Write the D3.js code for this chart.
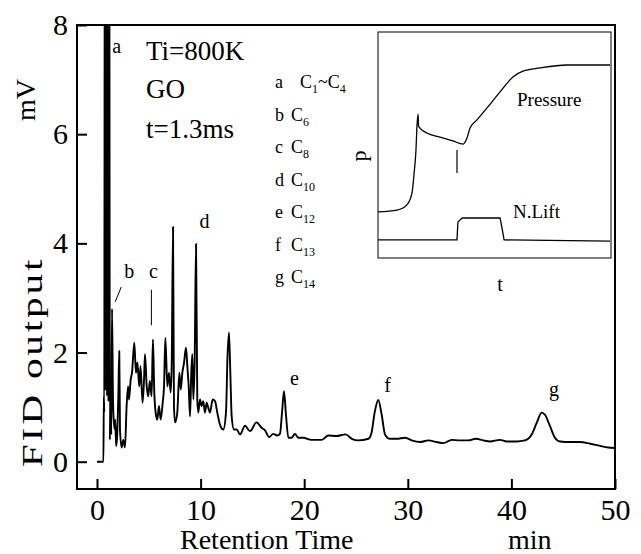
<!DOCTYPE html>
<html>
<head>
<meta charset="utf-8">
<script src="https://cdn.jsdelivr.net/npm/d3@7"></script>
<style>
  body { margin: 0; background: #fff; }
  svg { display: block; }
  text { font-family: "Liberation Serif", "Times New Roman", serif; fill: #000; }
</style>
</head>
<body>
<svg id="chart" width="641" height="554"></svg>
<script>
// Chromatogram: retention time (min) and FID output (mV)
const retentionTime = [0,0.62,0.66,0.7,0.76,0.83,0.9,0.97,1.04,1.11,1.18,1.24,1.3,1.38,1.45,1.55,1.68,1.76,1.85,1.96,2.06,2.15,2.22,2.38,2.54,2.7,2.86,3.0,3.09,3.25,3.38,3.6,3.76,3.9,4.08,4.2,4.4,4.54,4.63,4.8,4.95,5.1,5.27,5.4,5.53,5.66,5.82,5.98,6.15,6.34,6.47,6.6,6.79,6.95,7.11,7.21,7.34,7.43,7.53,7.75,7.95,8.08,8.24,8.4,8.59,8.72,8.85,8.98,9.1,9.2,9.3,9.43,9.56,9.68,9.78,9.94,10.1,10.26,10.42,10.59,10.74,10.9,11.17,11.39,11.61,11.87,12.19,12.45,12.6,12.74,12.87,13.0,13.22,13.48,13.8,14.29,14.77,15.4,15.9,16.2,16.63,17.0,17.4,17.66,17.86,18.05,18.24,18.47,18.79,19.1,19.43,19.9,20.7,21.7,22.33,23.1,24.0,24.6,25.2,26.2,26.5,26.8,27.15,27.48,27.8,28.28,28.93,29.73,30.38,31.18,31.98,32.79,33.43,34.24,35.04,35.84,36.58,37.29,37.93,38.9,39.55,40.5,41.3,41.96,42.44,42.92,43.24,43.73,44.2,44.7,45.66,46.6,47.6,48.55,49.35,50];
const fidOutput = [0,0,1.2,0.9,12,1.3,12,1.2,12,1.1,12,0.4,1.4,0.5,2.8,1.08,0.6,0.77,0.28,0.53,1.2,2.03,0.59,0.26,0.4,0.26,1.02,1.38,1.14,1.5,1.63,2.18,1.63,1.82,1.38,1.75,1.08,1.5,1.97,1.38,1.2,1.48,1.2,2.24,1.27,0.9,0.77,1.02,0.77,1.08,1.38,2.27,1.38,1.63,1.27,1.75,4.3,1.02,0.72,0.9,1.63,1.32,1.63,1.81,2.09,1.75,1.38,0.83,1.63,1.97,1.14,1.88,3.99,1.14,0.9,1.14,1.02,1.11,0.9,1.08,0.99,0.9,1.14,1.11,0.9,0.68,0.59,0.9,1.94,2.37,1.63,0.83,0.59,0.59,0.5,0.66,0.56,0.72,0.62,0.58,0.45,0.51,0.48,0.51,0.9,1.29,0.86,0.44,0.44,0.51,0.44,0.44,0.4,0.4,0.48,0.47,0.5,0.42,0.39,0.42,0.53,0.9,1.13,0.86,0.5,0.42,0.42,0.44,0.39,0.36,0.39,0.36,0.34,0.4,0.39,0.39,0.42,0.39,0.37,0.4,0.37,0.37,0.39,0.5,0.71,0.9,0.86,0.65,0.44,0.37,0.36,0.36,0.33,0.29,0.26,0.25];

const xTickValues = [0, 10, 20, 30, 40, 50];
const yTickValues = [0, 2, 4, 6, 8];

// Peak letters and their identities
const peakKeys = ["a", "b", "c", "d", "e", "f", "g"];
const peakCarbons = [["1", "4"], ["6"], ["8"], ["10"], ["12"], ["13"], ["14"]];

// Run conditions
const conditionLines = ["Ti=800K", "GO", "t=1.3ms"];

// Inset: cylinder pressure and needle lift against time (arbitrary units)
const insetTime = [0,8.2,12.4,14.6,15.5,16.3,16.7,17.2,17.4,18.0,21.0,26.6,32.2,36.5,38.2,39.5,42.5,46.8,52.4,57.9,62.2,69.5,81.1,99.6];
const insetPressure = [20.4,21.2,23.5,28.8,37.6,47.8,58,63.7,58.4,57.5,55.3,53.5,51.8,50.4,53.1,57.5,61.1,66.4,73.5,80.1,82.7,84.1,85.4,85.4];
const liftTime = [0,33.9,34.3,36.1,52.4,53.6,54.1,99.6];
const liftValue = [8.0,8.0,15.9,17.7,17.7,11.1,8.0,7.5];
const ignitionMarkTime = [33.9, 33.9];
const ignitionMarkValue = [47.8, 37.6];

const svg = d3.select("#chart");
const plot = { left: 77, top: 25, right: 615, bottom: 489 };

const x = d3.scaleLinear().domain([-1.93, 50]).range([plot.left, plot.right]);
const y = d3.scaleLinear().domain([-0.5, 8]).range([plot.bottom, plot.top]);

svg.append("defs").append("clipPath").attr("id", "plotClip")
  .append("rect")
  .attr("x", plot.left).attr("y", plot.top)
  .attr("width", plot.right - plot.left).attr("height", plot.bottom - plot.top);

// Trace
const trace = retentionTime.map((t, i) => [t, fidOutput[i]]);
svg.append("path")
  .datum(trace)
  .attr("clip-path", "url(#plotClip)")
  .attr("fill", "none")
  .attr("stroke", "#000")
  .attr("stroke-width", 1.9)
  .attr("stroke-linejoin", "round")
  .attr("d", d3.line().x(d => x(d[0])).y(d => y(d[1])).curve(d3.curveMonotoneX));

// Axes with inward ticks
const xAxis = svg.append("g")
  .attr("transform", `translate(0,${plot.bottom})`)
  .call(d3.axisBottom(x).tickValues(xTickValues).tickSize(-10).tickPadding(10));
const yAxis = svg.append("g")
  .attr("transform", `translate(${plot.left},0)`)
  .call(d3.axisLeft(y).tickValues(yTickValues).tickSize(-10).tickPadding(9));
[xAxis, yAxis].forEach(g => {
  g.select(".domain").remove();
  g.selectAll(".tick line").attr("stroke", "#000").attr("stroke-width", 2);
  g.selectAll(".tick text")
    .style("font-family", '"Liberation Serif", "Times New Roman", serif')
    .style("font-size", "30px").attr("fill", "#000");
});

// Frame
svg.append("rect")
  .attr("x", plot.left).attr("y", plot.top)
  .attr("width", plot.right - plot.left).attr("height", plot.bottom - plot.top)
  .attr("fill", "none").attr("stroke", "#000").attr("stroke-width", 2);

// Axis titles
svg.append("text").attr("x", 180).attr("y", 549)
  .style("font-size", "28px").text("Retention Time");
svg.append("text").attr("x", 508).attr("y", 549)
  .style("font-size", "28px").text("min");
svg.append("text")
  .attr("transform", "translate(42,362) rotate(-90) scale(1.38,1)")
  .attr("text-anchor", "middle")
  .style("font-size", "30px").style("letter-spacing", "2px")
  .text("FID  output");
svg.append("text")
  .attr("transform", "translate(35,100) rotate(-90)")
  .attr("text-anchor", "middle")
  .style("font-size", "28px").text("mV");

// Run conditions
conditionLines.forEach((s, i) => {
  svg.append("text").attr("x", 146).attr("y", [60, 98, 138][i])
    .style("font-size", "27px").text(s);
});

// Peak letters beside the peaks
const peakLabelAt = [[1.48, 7.49, "start"], [3.12, 3.37, "middle"], [5.44, 3.37, "middle"],
                     [10.37, 4.28, "middle"], [19.07, 1.41, "middle"], [28.04, 1.28, "middle"],
                     [44.1, 1.2, "middle"]];
peakKeys.forEach((k, i) => {
  const [t, v, anchor] = peakLabelAt[i];
  svg.append("text").attr("x", x(t)).attr("y", y(v))
    .attr("text-anchor", anchor).style("font-size", "20px").text(k);
});
// leader strokes for b and c
[[[2.34, 3.2], [1.76, 2.93]], [[5.25, 3.15], [5.25, 2.5]]].forEach(seg => {
  svg.append("line")
    .attr("x1", x(seg[0][0])).attr("y1", y(seg[0][1]))
    .attr("x2", x(seg[1][0])).attr("y2", y(seg[1][1]))
    .attr("stroke", "#000").attr("stroke-width", 1);
});

// Key of peak identities
const keyBaselines = [88, 120.5, 153, 185.5, 218, 250.5, 283];
peakKeys.forEach((k, i) => {
  const g = svg.append("text").attr("y", keyBaselines[i]).style("font-size", "18px");
  g.append("tspan").attr("x", 275).text(k);
  const c = peakCarbons[i];
  g.append("tspan").attr("x", i === 0 ? 300 : 291).text("C");
  g.append("tspan").attr("dy", 5).style("font-size", "12px").text(c[0]);
  if (c.length > 1) {
    g.append("tspan").attr("dy", -5).text("~C");
    g.append("tspan").attr("dy", 5).style("font-size", "12px").text(c[1]);
  }
});

// Inset
const inset = { left: 378, top: 32, right: 611, bottom: 258 };
const ix = d3.scaleLinear().domain([0, 100]).range([inset.left, inset.right]);
const iy = d3.scaleLinear().domain([0, 100]).range([inset.bottom, inset.top]);
svg.append("rect")
  .attr("x", inset.left).attr("y", inset.top)
  .attr("width", inset.right - inset.left).attr("height", inset.bottom - inset.top)
  .attr("fill", "#fff").attr("stroke", "#000").attr("stroke-width", 1);
svg.append("path")
  .datum(insetTime.map((t, i) => [t, insetPressure[i]]))
  .attr("fill", "none").attr("stroke", "#000").attr("stroke-width", 1.3)
  .attr("d", d3.line().x(d => ix(d[0])).y(d => iy(d[1])).curve(d3.curveMonotoneX));
svg.append("path")
  .datum(liftTime.map((t, i) => [t, liftValue[i]]))
  .attr("fill", "none").attr("stroke", "#000").attr("stroke-width", 1.3)
  .attr("d", d3.line().x(d => ix(d[0])).y(d => iy(d[1])));
svg.append("path")
  .datum(ignitionMarkTime.map((t, i) => [t, ignitionMarkValue[i]]))
  .attr("fill", "none").attr("stroke", "#000").attr("stroke-width", 1.2)
  .attr("d", d3.line().x(d => ix(d[0])).y(d => iy(d[1])));
svg.append("text").attr("x", 517).attr("y", 106).style("font-size", "19px").text("Pressure");
svg.append("text").attr("x", 513).attr("y", 218).style("font-size", "19px").text("N.Lift");
svg.append("text").attr("x", 500).attr("y", 291).attr("text-anchor", "middle")
  .style("font-size", "20px").text("t");
svg.append("text").attr("transform", "translate(366,156) rotate(-90)")
  .attr("text-anchor", "middle").style("font-size", "22px").text("p");
</script>
</body>
</html>
